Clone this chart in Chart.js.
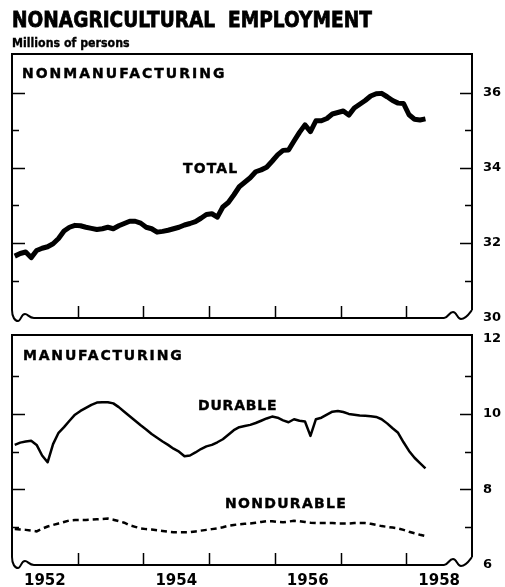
<!DOCTYPE html>
<html lang="en">
<head>
<meta charset="UTF-8">
<title>Nonagricultural Employment</title>
<style>
    body {
        margin: 0;
        background: #fff;
        color: #000;
        font-family: 'DejaVu Sans', sans-serif;
    }
    .wrap {
        position: relative;
        width: 505px;
        height: 587px;
        overflow: hidden;
    }
    canvas {
        position: absolute;
        left: 0;
        top: 0;
    }
    .txt {
        position: absolute;
        font-weight: bold;
        white-space: nowrap;
        line-height: 1;
        transform-origin: left top;
        -webkit-text-stroke: 0.4px #000;
    }
    #title { left: 12px; top: 9px; font-size: 22px; -webkit-text-stroke: 0.8px #000; }
    #sub { left: 12px; top: 36px; font-size: 13px; }
    .lbl { font-size: 14px; }
</style>
<script src="https://cdn.jsdelivr.net/npm/chart.js"></script>
</head>
<body>
<div class="wrap">
    <canvas id="top" width="505" height="587"></canvas>
    <canvas id="bottom" width="505" height="587"></canvas>
    <div id="title" class="txt" data-w="360">NONAGRICULTURAL&nbsp; EMPLOYMENT</div>
    <div id="sub" class="txt" data-w="118">Millions of persons</div>
    <div class="txt lbl" style="left:22px; top:66.3px; letter-spacing:2px;">NONMANUFACTURING</div>
    <div class="txt lbl" style="left:183px; top:161.3px; letter-spacing:1.1px;">TOTAL</div>
    <div class="txt lbl" style="left:23px; top:348.3px; letter-spacing:1.8px;">MANUFACTURING</div>
    <div class="txt lbl" style="left:198px; top:398.3px; letter-spacing:0.8px;">DURABLE</div>
    <div class="txt lbl" style="left:225px; top:496.3px; letter-spacing:1.3px;">NONDURABLE</div>
</div>
<script>
    // monthly, Jan 1952 - Apr 1958, millions of persons
    const yearLabels = ['1952', '1954', '1956', '1958'];
    const totalTicks = [30, 32, 34, 36];
    const mfgTicks = [6, 8, 10, 12];

    const nonmfgTotal = [
        31.65, 31.72, 31.76, 31.61, 31.80, 31.86, 31.90, 31.98, 32.12, 32.32, 32.42, 32.47,
        32.46, 32.42, 32.39, 32.36, 32.38, 32.42, 32.38, 32.46, 32.52, 32.58, 32.58, 32.53,
        32.42, 32.38, 32.29, 32.31, 32.34, 32.38, 32.42, 32.48, 32.52, 32.57, 32.66, 32.76,
        32.78, 32.69, 32.96, 33.08, 33.28, 33.50, 33.62, 33.74, 33.90, 33.95, 34.02, 34.18,
        34.35, 34.47, 34.48, 34.72, 34.95, 35.15, 34.97, 35.26, 35.26, 35.32, 35.44, 35.48,
        35.52, 35.41, 35.60, 35.70, 35.80, 35.92, 35.98, 35.99, 35.90, 35.80, 35.73, 35.72,
        35.42, 35.30, 35.28, 35.31
    ];
    const durable = [
        9.18, 9.24, 9.27, 9.29, 9.18, 8.90, 8.72, 9.20, 9.50, 9.65, 9.82, 9.98,
        10.08, 10.16, 10.24, 10.30, 10.31, 10.31, 10.28, 10.18, 10.06, 9.94, 9.82, 9.70,
        9.59, 9.47, 9.37, 9.27, 9.18, 9.08, 9.00, 8.88, 8.90, 8.98, 9.07, 9.14,
        9.18, 9.25, 9.33, 9.45, 9.57, 9.65, 9.68, 9.71, 9.76, 9.82, 9.88, 9.93,
        9.90, 9.83, 9.78, 9.86, 9.82, 9.80, 9.42, 9.86, 9.90, 9.98, 10.06, 10.08,
        10.05, 10.00, 9.98, 9.96, 9.95, 9.94, 9.92, 9.86, 9.75, 9.62, 9.50, 9.25,
        9.02, 8.84, 8.70, 8.56
    ];
    const nondurable = [
        6.95, 6.94, 6.93, 6.91, 6.89, 6.96, 7.02, 7.06, 7.10, 7.14, 7.18, 7.19,
        7.19, 7.19, 7.20, 7.21, 7.22, 7.23, 7.20, 7.16, 7.12, 7.05, 7.01, 6.97,
        6.95, 6.94, 6.92, 6.90, 6.88, 6.87, 6.87, 6.87, 6.87, 6.89, 6.91, 6.93,
        6.95, 6.97, 7.00, 7.04, 7.06, 7.08, 7.09, 7.10, 7.12, 7.14, 7.16, 7.16,
        7.14, 7.13, 7.15, 7.17, 7.16, 7.14, 7.12, 7.11, 7.11, 7.11, 7.11, 7.10,
        7.10, 7.10, 7.11, 7.11, 7.11, 7.09, 7.06, 7.03, 7.01, 6.99, 6.97, 6.93,
        6.88, 6.84, 6.80, 6.77
    ];

    // squeeze the heavy headings to the width they have in the print
    document.querySelectorAll('[data-w]').forEach(el => {
        el.style.transform = 'scaleX(' + (el.dataset.w / el.offsetWidth) + ')';
    });

    // month index -> middle of that month on a 0..84 axis
    const toPoints = arr => arr.map((v, i) => ({ x: i + 0.5, y: v }));
    const boldFont = size => ({ family: 'DejaVu Sans', weight: 'bold', size: size });

    // panel box, broken-axis squiggles and inward tick marks
    const frame = {
        id: 'frame',
        afterDraw(chart) {
            const { ctx, chartArea: a, scales: { x, y } } = chart;
            const L = a.left, R = a.right, T = a.top, B = a.bottom;
            ctx.save();
            ctx.strokeStyle = '#000';
            ctx.lineWidth = 2;
            ctx.beginPath();
            ctx.moveTo(L, B - 8);
            ctx.lineTo(L, T);
            ctx.lineTo(R, T);
            ctx.lineTo(R, B - 8);
            ctx.stroke();

            ctx.beginPath();
            ctx.moveTo(L, B - 8);
            ctx.bezierCurveTo(L, B - 1, L + 3, B + 3, L + 6, B + 3);
            ctx.bezierCurveTo(L + 9, B + 3, L + 9, B - 4, L + 13, B - 4);
            ctx.bezierCurveTo(L + 16, B - 4, L + 17, B, L + 22, B);
            ctx.lineTo(R - 28, B);
            ctx.bezierCurveTo(R - 24, B, R - 23, B - 6, R - 19, B - 6);
            ctx.bezierCurveTo(R - 15, B - 6, R - 15, B + 1, R - 11, B + 1);
            ctx.bezierCurveTo(R - 6, B + 1, R - 3, B - 4, R, B - 8);
            ctx.stroke();

            ctx.lineWidth = 1.5;
            ctx.beginPath();
            for (let v = Math.ceil(y.min) + 1; v < y.max - 0.2; v++) {
                const py = Math.round(y.getPixelForValue(v)) + 0.5;
                const major = v % 2 === 0;
                ctx.moveTo(L, py);
                ctx.lineTo(L + (major ? 13 : 7), py);
                ctx.moveTo(R, py);
                ctx.lineTo(R - (major ? 12 : 7), py);
            }
            for (let m = 12; m < 84; m += 12) {
                const px = Math.round(x.getPixelForValue(m)) + 0.5;
                ctx.moveTo(px, B);
                ctx.lineTo(px, B - 12);
            }
            ctx.stroke();
            ctx.restore();
        }
    };

    const yAxis = (min, max, ticks) => ({
        type: 'linear',
        position: 'right',
        min: min,
        max: max,
        afterFit(s) { s.width = 33; },
        afterBuildTicks(s) { s.ticks = ticks.map(v => ({ value: v })); },
        grid: { display: false, drawTicks: false },
        border: { display: false },
        ticks: { padding: 11, color: '#000', font: boldFont(13) }
    });

    new Chart(document.getElementById('top'), {
        type: 'line',
        data: {
            datasets: [{
                label: 'Total',
                data: toPoints(nonmfgTotal),
                borderColor: '#000',
                borderWidth: 5,
                borderJoinStyle: 'round',
                pointRadius: 0,
                tension: 0
            }]
        },
        options: {
            responsive: false,
            animation: false,
            layout: { padding: { left: 12, top: 54, right: 0, bottom: 269 } },
            plugins: { legend: { display: false }, tooltip: { enabled: false } },
            scales: {
                x: { type: 'linear', min: 0, max: 84, display: false },
                y: yAxis(30, 37.04, totalTicks)
            }
        },
        plugins: [frame]
    });

    new Chart(document.getElementById('bottom'), {
        type: 'line',
        data: {
            datasets: [{
                label: 'Durable',
                data: toPoints(durable),
                borderColor: '#000',
                borderWidth: 2.5,
                borderJoinStyle: 'round',
                pointRadius: 0,
                tension: 0
            }, {
                label: 'Nondurable',
                data: toPoints(nondurable),
                borderColor: '#000',
                borderWidth: 2.5,
                borderDash: [6, 4],
                pointRadius: 0,
                tension: 0
            }]
        },
        options: {
            responsive: false,
            animation: false,
            layout: { padding: { left: 12, top: 335, right: 0, bottom: 0 } },
            plugins: { legend: { display: false }, tooltip: { enabled: false } },
            scales: {
                x: {
                    type: 'linear',
                    min: 0,
                    max: 84,
                    afterFit(s) { s.height = 22; },
                    // one label in the middle of every other year
                    afterBuildTicks(s) { s.ticks = yearLabels.map((t, i) => ({ value: 6 + i * 24 })); },
                    grid: { display: false, drawTicks: false },
                    border: { display: false },
                    ticks: {
                        padding: 7,
                        color: '#000',
                        font: boldFont(15),
                        maxRotation: 0,
                        autoSkip: false,
                        callback: (v, i) => yearLabels[i]
                    }
                },
                y: yAxis(6, 12.09, mfgTicks)
            }
        },
        plugins: [frame]
    });
</script>
</body>
</html>
